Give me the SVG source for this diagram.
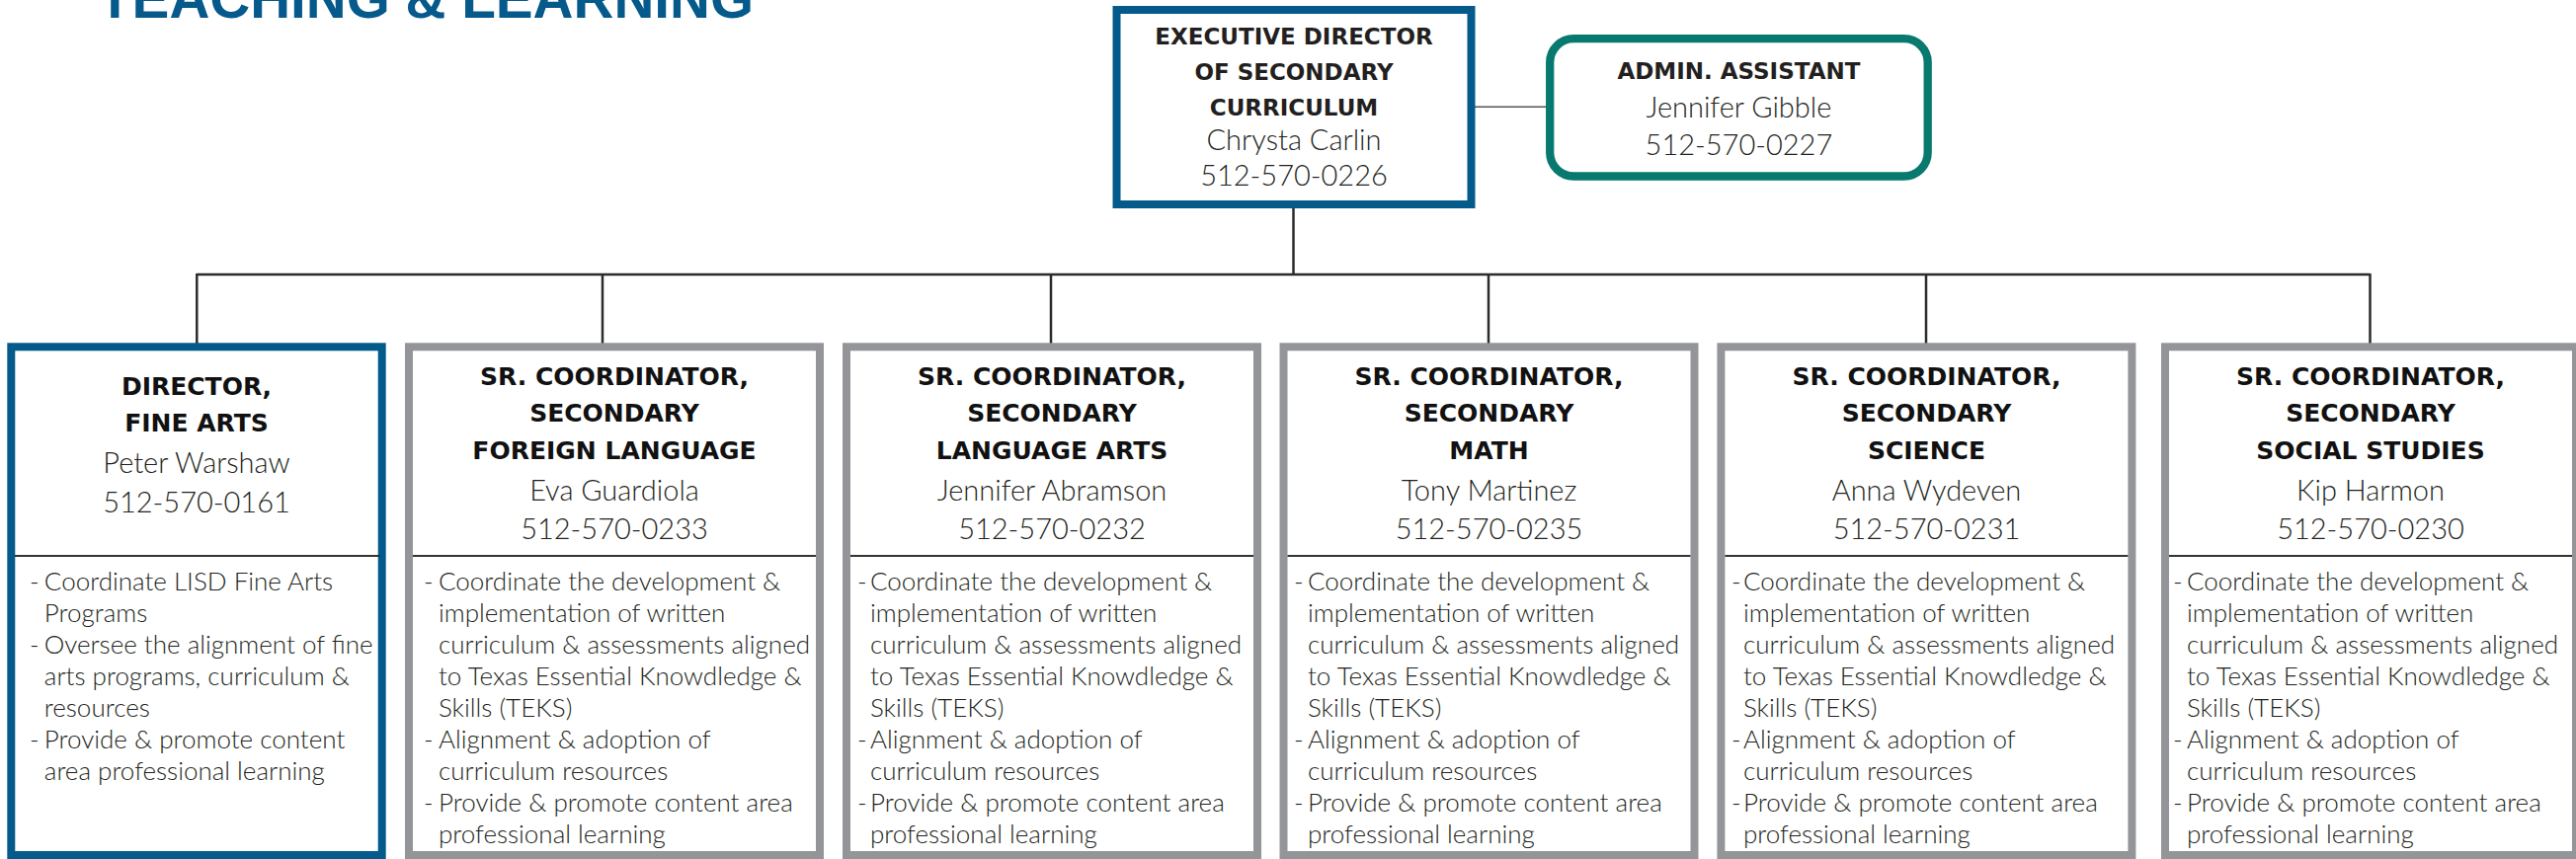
<svg xmlns="http://www.w3.org/2000/svg" width="2608" height="870" viewBox="0 0 2608 870">
<style>
.bg{fill:#ffffff}
.blue{fill:#ffffff;stroke:#045a8a;stroke-width:8}
.gray{fill:#ffffff;stroke:#939598;stroke-width:8}
.teal{fill:#ffffff;stroke:#08796f;stroke-width:8.3}
.div{stroke:#333333;stroke-width:2;fill:none}
.conn{stroke:#2b2b2b;stroke-width:2.5;fill:none}
.thin{stroke:#555555;stroke-width:1.6;fill:none}
.title{font-family:"Liberation Sans",Arial,sans-serif;font-weight:bold;font-size:57px;fill:#055a8b}
.h{font-family:"DejaVu Sans",sans-serif;font-weight:bold;font-size:25px;fill:#111111;text-anchor:middle}
.hs{font-family:"DejaVu Sans",sans-serif;font-weight:bold;font-size:23px;fill:#231f20;text-anchor:middle}
.n{font-family:Lato,"Liberation Sans",sans-serif;font-weight:300;font-size:29px;fill:#231f20;text-anchor:middle}
.b{font-family:Lato,"Liberation Sans",sans-serif;font-weight:300;font-size:26px;fill:#231f20}
</style>
<rect class="bg" x="0" y="0" width="2608" height="870"/>
<text class="title" x="99" y="18" textLength="664" lengthAdjust="spacingAndGlyphs">TEACHING &amp; LEARNING</text>

<g id="connectors">
<line class="conn" x1="1309.5" y1="211" x2="1309.5" y2="278"/>
<line class="conn" x1="199.3" y1="278" x2="2399.5" y2="278"/>
<line class="conn" x1="199.3" y1="277" x2="199.3" y2="348"/>
<line class="conn" x1="610" y1="277" x2="610" y2="348"/>
<line class="conn" x1="1064" y1="277" x2="1064" y2="348"/>
<line class="conn" x1="1507" y1="277" x2="1507" y2="348"/>
<line class="conn" x1="1950" y1="277" x2="1950" y2="348"/>
<line class="conn" x1="2399.5" y1="277" x2="2399.5" y2="348"/>
<line class="thin" x1="1493" y1="108.3" x2="1565" y2="108.3"/>
</g>

<g id="exec">
<rect class="blue" x="1130.5" y="10" width="359" height="197"/>
<text class="hs" x="1310" y="45">EXECUTIVE DIRECTOR</text>
<text class="hs" x="1310" y="81">OF SECONDARY</text>
<text class="hs" x="1310" y="116.7">CURRICULUM</text>
<text class="n" x="1310" y="151.7">Chrysta Carlin</text>
<text class="n" x="1310" y="188.3">512-570-0226</text>
</g>

<g id="admin">
<rect class="teal" x="1569.2" y="39.2" width="382.5" height="139.3" rx="24" ry="24"/>
<text class="hs" x="1760.4" y="80">ADMIN. ASSISTANT</text>
<text class="n" x="1760.4" y="119.3">Jennifer Gibble</text>
<text class="n" x="1760.4" y="157.3">512-570-0227</text>
</g>

<g id="fine-arts">
<rect class="blue" x="11.3" y="351.3" width="375.4" height="514.7"/>
<line class="div" x1="15" y1="563" x2="385" y2="563"/>
<text class="h" x="199" y="400">DIRECTOR,</text>
<text class="h" x="199" y="437.3">FINE ARTS</text>
<text class="n" x="199" y="479.3">Peter Warshaw</text>
<text class="n" x="199" y="519.3">512-570-0161</text>
<text class="b" x="30" y="598">-</text>
<text class="b" x="44.8" y="598">Coordinate LISD Fine Arts</text>
<text class="b" x="44.8" y="630">Programs</text>
<text class="b" x="30" y="662">-</text>
<text class="b" x="44.8" y="662">Oversee the alignment of fine</text>
<text class="b" x="44.8" y="694">arts programs, curriculum &amp;</text>
<text class="b" x="44.8" y="726">resources</text>
<text class="b" x="30" y="758">-</text>
<text class="b" x="44.8" y="758">Provide &amp; promote content</text>
<text class="b" x="44.8" y="790">area professional learning</text>
</g>

<g id="foreign-language">
<rect class="gray" x="414" y="351.3" width="416" height="514.7"/>
<line class="div" x1="418" y1="563" x2="826" y2="563"/>
<text class="h" x="622" y="390">SR. COORDINATOR,</text>
<text class="h" x="622" y="427">SECONDARY</text>
<text class="h" x="622" y="465">FOREIGN LANGUAGE</text>
<text class="n" x="622" y="507">Eva Guardiola</text>
<text class="n" x="622" y="546">512-570-0233</text>
<text class="b" x="429" y="598">-</text>
<text class="b" x="444" y="598">Coordinate the development &amp;</text>
<text class="b" x="444" y="630">implementation of written</text>
<text class="b" x="444" y="662">curriculum &amp; assessments aligned</text>
<text class="b" x="444" y="694">to Texas Essential Knowdledge &amp;</text>
<text class="b" x="444" y="726">Skills (TEKS)</text>
<text class="b" x="429" y="758">-</text>
<text class="b" x="444" y="758">Alignment &amp; adoption of</text>
<text class="b" x="444" y="790">curriculum resources</text>
<text class="b" x="429" y="822">-</text>
<text class="b" x="444" y="822">Provide &amp; promote content area</text>
<text class="b" x="444" y="854">professional learning</text>
</g>

<g id="language-arts">
<rect class="gray" x="857" y="351.3" width="416" height="514.7"/>
<line class="div" x1="861" y1="563" x2="1269" y2="563"/>
<text class="h" x="1065" y="390">SR. COORDINATOR,</text>
<text class="h" x="1065" y="427">SECONDARY</text>
<text class="h" x="1065" y="465">LANGUAGE ARTS</text>
<text class="n" x="1065" y="507">Jennifer Abramson</text>
<text class="n" x="1065" y="546">512-570-0232</text>
<text class="b" x="868" y="598">-</text>
<text class="b" x="881" y="598">Coordinate the development &amp;</text>
<text class="b" x="881" y="630">implementation of written</text>
<text class="b" x="881" y="662">curriculum &amp; assessments aligned</text>
<text class="b" x="881" y="694">to Texas Essential Knowdledge &amp;</text>
<text class="b" x="881" y="726">Skills (TEKS)</text>
<text class="b" x="868" y="758">-</text>
<text class="b" x="881" y="758">Alignment &amp; adoption of</text>
<text class="b" x="881" y="790">curriculum resources</text>
<text class="b" x="868" y="822">-</text>
<text class="b" x="881" y="822">Provide &amp; promote content area</text>
<text class="b" x="881" y="854">professional learning</text>
</g>

<g id="math">
<rect class="gray" x="1299.5" y="351.3" width="416" height="514.7"/>
<line class="div" x1="1303.5" y1="563" x2="1711.5" y2="563"/>
<text class="h" x="1507.5" y="390">SR. COORDINATOR,</text>
<text class="h" x="1507.5" y="427">SECONDARY</text>
<text class="h" x="1507.5" y="465">MATH</text>
<text class="n" x="1507.5" y="507">Tony Martinez</text>
<text class="n" x="1507.5" y="546">512-570-0235</text>
<text class="b" x="1310" y="598">-</text>
<text class="b" x="1324" y="598">Coordinate the development &amp;</text>
<text class="b" x="1324" y="630">implementation of written</text>
<text class="b" x="1324" y="662">curriculum &amp; assessments aligned</text>
<text class="b" x="1324" y="694">to Texas Essential Knowdledge &amp;</text>
<text class="b" x="1324" y="726">Skills (TEKS)</text>
<text class="b" x="1310" y="758">-</text>
<text class="b" x="1324" y="758">Alignment &amp; adoption of</text>
<text class="b" x="1324" y="790">curriculum resources</text>
<text class="b" x="1310" y="822">-</text>
<text class="b" x="1324" y="822">Provide &amp; promote content area</text>
<text class="b" x="1324" y="854">professional learning</text>
</g>

<g id="science">
<rect class="gray" x="1742.4" y="351.3" width="416" height="514.7"/>
<line class="div" x1="1746.4" y1="563" x2="2154.4" y2="563"/>
<text class="h" x="1950.5" y="390">SR. COORDINATOR,</text>
<text class="h" x="1950.5" y="427">SECONDARY</text>
<text class="h" x="1950.5" y="465">SCIENCE</text>
<text class="n" x="1950.5" y="507">Anna Wydeven</text>
<text class="n" x="1950.5" y="546">512-570-0231</text>
<text class="b" x="1753" y="598">-</text>
<text class="b" x="1765" y="598">Coordinate the development &amp;</text>
<text class="b" x="1765" y="630">implementation of written</text>
<text class="b" x="1765" y="662">curriculum &amp; assessments aligned</text>
<text class="b" x="1765" y="694">to Texas Essential Knowdledge &amp;</text>
<text class="b" x="1765" y="726">Skills (TEKS)</text>
<text class="b" x="1753" y="758">-</text>
<text class="b" x="1765" y="758">Alignment &amp; adoption of</text>
<text class="b" x="1765" y="790">curriculum resources</text>
<text class="b" x="1753" y="822">-</text>
<text class="b" x="1765" y="822">Provide &amp; promote content area</text>
<text class="b" x="1765" y="854">professional learning</text>
</g>

<g id="social-studies">
<rect class="gray" x="2192" y="351.3" width="416" height="514.7"/>
<line class="div" x1="2196" y1="563" x2="2604" y2="563"/>
<text class="h" x="2400" y="390">SR. COORDINATOR,</text>
<text class="h" x="2400" y="427">SECONDARY</text>
<text class="h" x="2400" y="465">SOCIAL STUDIES</text>
<text class="n" x="2400" y="507">Kip Harmon</text>
<text class="n" x="2400" y="546">512-570-0230</text>
<text class="b" x="2200" y="598">-</text>
<text class="b" x="2214" y="598">Coordinate the development &amp;</text>
<text class="b" x="2214" y="630">implementation of written</text>
<text class="b" x="2214" y="662">curriculum &amp; assessments aligned</text>
<text class="b" x="2214" y="694">to Texas Essential Knowdledge &amp;</text>
<text class="b" x="2214" y="726">Skills (TEKS)</text>
<text class="b" x="2200" y="758">-</text>
<text class="b" x="2214" y="758">Alignment &amp; adoption of</text>
<text class="b" x="2214" y="790">curriculum resources</text>
<text class="b" x="2200" y="822">-</text>
<text class="b" x="2214" y="822">Provide &amp; promote content area</text>
<text class="b" x="2214" y="854">professional learning</text>
</g>
</svg>
